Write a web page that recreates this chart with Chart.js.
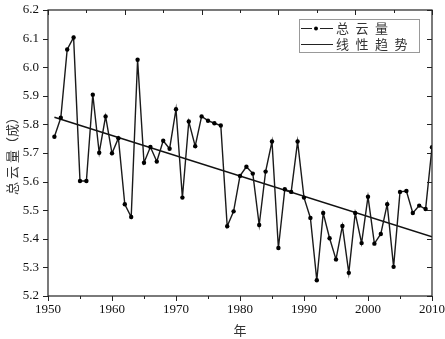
<!DOCTYPE html>
<html>
<head>
<meta charset="utf-8">
<script src="https://cdn.jsdelivr.net/npm/chart.js@4.4.1/dist/chart.umd.min.js"></script>
<style>
  html, body { margin: 0; padding: 0; background: #fff; }
  #contenedor { position: relative; width: 445px; height: 339px; }
</style>
</head>
<body>
<div id="contenedor"><canvas id="grafico-nubosidad"></canvas></div>
<script>
// Años y nubosidad total anual (décimos)
const anios = [
  1951, 1952, 1953, 1954, 1955, 1956, 1957, 1958, 1959, 1960,
  1961, 1962, 1963, 1964, 1965, 1966, 1967, 1968, 1969, 1970,
  1971, 1972, 1973, 1974, 1975, 1976, 1977, 1978, 1979, 1980,
  1981, 1982, 1983, 1984, 1985, 1986, 1987, 1988, 1989, 1990,
  1991, 1992, 1993, 1994, 1995, 1996, 1997, 1998, 1999, 2000,
  2001, 2002, 2003, 2004, 2005, 2006, 2007, 2008, 2009, 2010
];
const nubosidad = [
  5.757, 5.823, 6.062, 6.104, 5.602, 5.602, 5.904, 5.701, 5.828, 5.699,
  5.752, 5.521, 5.476, 6.026, 5.666, 5.721, 5.670, 5.743, 5.715, 5.853,
  5.544, 5.810, 5.724, 5.828, 5.813, 5.804, 5.796, 5.444, 5.496, 5.620,
  5.652, 5.628, 5.448, 5.635, 5.740, 5.368, 5.573, 5.564, 5.740, 5.544,
  5.473, 5.255, 5.490, 5.402, 5.328, 5.445, 5.281, 5.490, 5.385, 5.547,
  5.383, 5.417, 5.521, 5.302, 5.564, 5.567, 5.490, 5.516, 5.504, 5.720
];

// Tendencia lineal (extremos)
const aniosTendencia = [1951, 2010];
const valoresTendencia = [5.825, 5.407];

// Marcas de los ejes
const ticksX = [1950, 1960, 1970, 1980, 1990, 2000, 2010];
const ticksXMenores = [1955, 1965, 1975, 1985, 1995, 2005];
const ticksXSuperior = [1950, 1962, 1974, 1986, 1998, 2010];
const ticksXSuperiorMenores = [1956, 1968, 1980, 1992, 2004];
const ticksY = [5.2, 5.3, 5.4, 5.5, 5.6, 5.7, 5.8, 5.9, 6.0, 6.1, 6.2];

const etiquetasLeyenda = ['总云量', '线性趋势'];

const FUENTE_SERIF = '"Liberation Serif", "DejaVu Serif", serif';
const FUENTE_CJK = '"Noto Sans CJK SC", sans-serif';

/**
 * Dibuja el marco, las marcas de los ejes y la leyenda
 */
const pluginMarco = {
  id: 'marco',
  afterDraw(chart) {
    const ctx = chart.ctx;
    const area = chart.chartArea;
    const ejeX = chart.scales.x;
    const ejeY = chart.scales.y;

    ctx.save();
    ctx.strokeStyle = '#222';
    ctx.lineWidth = 1.2;
    ctx.strokeRect(area.left, area.top, area.right - area.left, area.bottom - area.top);

    ctx.lineWidth = 1;
    ctx.beginPath();
    // Eje inferior (hacia afuera)
    ticksX.forEach(v => {
      const px = Math.round(ejeX.getPixelForValue(v)) + 0.5;
      ctx.moveTo(px, area.bottom); ctx.lineTo(px, area.bottom + 5);
    });
    ticksXMenores.forEach(v => {
      const px = Math.round(ejeX.getPixelForValue(v)) + 0.5;
      ctx.moveTo(px, area.bottom); ctx.lineTo(px, area.bottom + 3);
    });
    // Eje superior (hacia adentro)
    ticksXSuperior.forEach(v => {
      const px = Math.round(ejeX.getPixelForValue(v)) + 0.5;
      ctx.moveTo(px, area.top); ctx.lineTo(px, area.top + 5);
    });
    ticksXSuperiorMenores.forEach(v => {
      const px = Math.round(ejeX.getPixelForValue(v)) + 0.5;
      ctx.moveTo(px, area.top); ctx.lineTo(px, area.top + 3);
    });
    // Ejes izquierdo (afuera) y derecho (adentro)
    ticksY.forEach(v => {
      const py = Math.round(ejeY.getPixelForValue(v)) + 0.5;
      ctx.moveTo(area.left - 5, py); ctx.lineTo(area.left, py);
      ctx.moveTo(area.right - 5, py); ctx.lineTo(area.right, py);
    });
    ctx.stroke();

    // Leyenda
    const lx = 299, ly = 19, lw = 120, lh = 33;
    ctx.fillStyle = '#fff';
    ctx.fillRect(lx, ly, lw, lh);
    ctx.strokeStyle = '#999';
    ctx.strokeRect(lx + 0.5, ly + 0.5, lw, lh);

    ctx.strokeStyle = '#222';
    ctx.lineWidth = 1.2;
    ctx.beginPath();
    ctx.moveTo(301, 28.5); ctx.lineTo(312, 28.5);
    ctx.moveTo(320, 28.5); ctx.lineTo(333, 28.5);
    ctx.moveTo(301, 44.5); ctx.lineTo(333, 44.5);
    ctx.stroke();
    ctx.fillStyle = '#000';
    ctx.beginPath();
    ctx.arc(316, 28.5, 2, 0, Math.PI * 2);
    ctx.fill();

    ctx.font = '13px ' + FUENTE_CJK;
    ctx.fillStyle = '#333';
    ctx.textBaseline = 'middle';
    ctx.textAlign = 'left';
    etiquetasLeyenda.forEach((texto, fila) => {
      [...texto].forEach((caracter, i) => {
        ctx.fillText(caracter, 336 + i * 19.5, 28 + fila * 16);
      });
    });
    ctx.restore();
  }
};

function generarGraficoNubosidad() {
  const canvas = document.getElementById('grafico-nubosidad');
  if (!canvas) return;

  new Chart(canvas, {
    type: 'line',
    data: {
      datasets: [
        {
          label: '总云量',
          data: anios.map((a, i) => ({ x: a, y: nubosidad[i] })),
          borderColor: '#1a1a1a',
          backgroundColor: '#000',
          borderWidth: 1.4,
          pointRadius: 2.2,
          pointBorderWidth: 0,
          tension: 0
        },
        {
          label: '线性趋势',
          data: aniosTendencia.map((a, i) => ({ x: a, y: valoresTendencia[i] })),
          borderColor: '#111',
          borderWidth: 1.4,
          pointRadius: 0,
          tension: 0
        }
      ]
    },
    options: {
      responsive: true,
      maintainAspectRatio: false,
      animation: false,
      layout: { padding: { left: 0, top: 10, right: 13, bottom: 0 } },
      plugins: {
        legend: { display: false },
        tooltip: { enabled: false }
      },
      scales: {
        x: {
          type: 'linear',
          min: 1950,
          max: 2010,
          grid: { display: false, drawTicks: false },
          border: { display: false },
          afterBuildTicks: eje => { eje.ticks = ticksX.map(v => ({ value: v })); },
          // Área de trazado fija: sin márgenes extra por las etiquetas
          afterFit: eje => {
            eje.paddingLeft = 0;
            eje.paddingRight = 0;
            eje.height = 43;
          },
          ticks: {
            color: '#111',
            padding: 6,
            maxRotation: 0,
            font: { family: FUENTE_SERIF, size: 13 },
            callback: v => String(v)
          },
          title: {
            display: true,
            text: '年',
            color: '#333',
            padding: { top: 3, bottom: 1 },
            font: { family: FUENTE_CJK, size: 13 }
          }
        },
        y: {
          min: 5.2,
          max: 6.2,
          grid: { display: false, drawTicks: false },
          border: { display: false },
          afterBuildTicks: eje => { eje.ticks = ticksY.map(v => ({ value: v })); },
          afterFit: eje => {
            eje.paddingTop = 0;
            eje.paddingBottom = 0;
            eje.width = 48;
          },
          ticks: {
            color: '#111',
            padding: 9,
            font: { family: FUENTE_SERIF, size: 13 },
            callback: v => Number(v).toFixed(1)
          },
          title: {
            display: true,
            text: '总 云 量（成）',
            color: '#333',
            padding: { top: 4, bottom: 4 },
            font: { family: FUENTE_CJK, size: 13 }
          }
        }
      }
    },
    plugins: [pluginMarco]
  });
}

generarGraficoNubosidad();
</script>
</body>
</html>
